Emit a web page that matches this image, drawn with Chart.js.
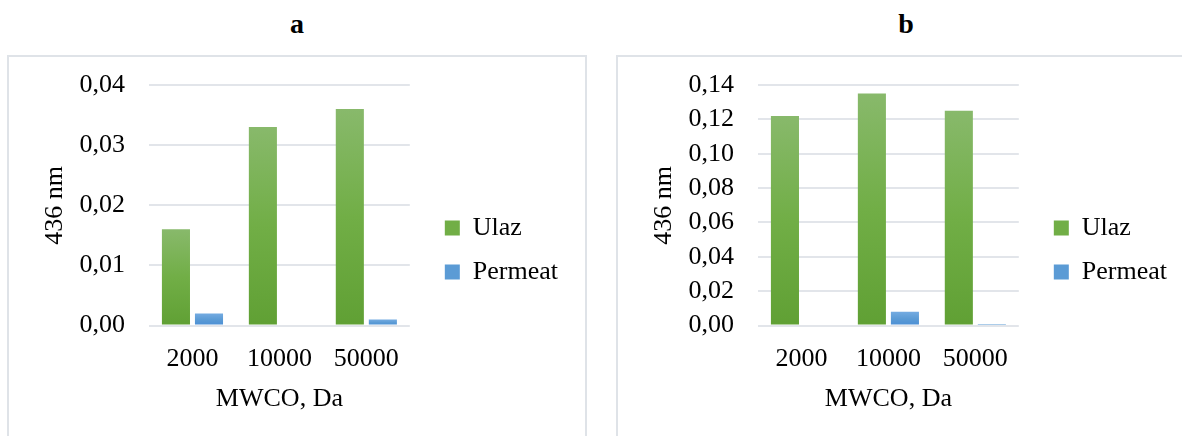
<!DOCTYPE html>
<html>
<head>
<meta charset="utf-8">
<script src="https://cdn.jsdelivr.net/npm/chart.js@4.4.1/dist/chart.umd.min.js"></script>
<style>
  body { margin: 0; width: 1182px; height: 436px; overflow: hidden; background: #fff; }
  .panel { position: absolute; top: 0; width: 580px; height: 436px; }
  .panel h2 { position: absolute; top: 8px; left: 0; width: 100%; margin: 0; text-align: center;
              font: bold 28px "Liberation Serif", serif; color: #000; }
  .box { position: absolute; top: 55px; left: 0; width: 576px; height: 400px; border: 2px solid #dfe3e8; }
  .box canvas { position: absolute; left: 0; top: 0; }
</style>
</head>
<body>
<div class="panel" style="left:7px"><h2>a</h2><div class="box"><canvas id="chartA" width="576" height="380"></canvas></div></div>
<div class="panel" style="left:616px"><h2>b</h2><div class="box"><canvas id="chartB" width="576" height="380"></canvas></div></div>
<script>
// values
const categories = ["2000", "10000", "50000"];
const ulazA = [0.016, 0.033, 0.036];
const permeatA = [0.002, 0, 0.001];
const ulazB = [0.122, 0.135, 0.125];
const permeatB = [0, 0.008, 0.001];
const seriesNames = ["Ulaz", "Permeat"];
const yMaxA = 0.04, yStepA = 0.01;
const yMaxB = 0.14, yStepB = 0.02;

// top / middle / bottom of the gradient fill
const greens = ["#88b96b", "#71ae46", "#60a034"];
const blues = ["#74abe1", "#5b9bd5", "#4a8ed5"];

const font = { family: "'Liberation Serif', 'Times New Roman', serif", size: 26, lineHeight: 1.2 };

// each bar gets its own vertical gradient, like the office fill
function barFill(c) {
  return function (ctx) {
    const chart = ctx.chart;
    const y = chart.scales && chart.scales.y;
    if (!chart.chartArea || !y || ctx.raw == null) return c[1];
    const y0 = y.getPixelForValue(ctx.raw);
    const y1 = y.getPixelForValue(0);
    if (y1 - y0 < 4) return c[1];
    const g = chart.ctx.createLinearGradient(0, y0, 0, y1);
    g.addColorStop(0, c[0]);
    g.addColorStop(0.5, c[1]);
    g.addColorStop(1, c[2]);
    return g;
  };
}

function makeChart(id, ulaz, permeat, yMax, yStep) {
  return new Chart(document.getElementById(id), {
    type: "bar",
    data: {
      labels: categories,
      datasets: [
        {
          label: seriesNames[0],
          data: ulaz,
          backgroundColor: barFill(greens),
          borderWidth: 0,
          categoryPercentage: 0.76,
          barPercentage: 0.85,
        },
        {
          label: seriesNames[1],
          data: permeat,
          backgroundColor: barFill(blues),
          borderWidth: 0,
          categoryPercentage: 0.76,
          barPercentage: 0.85,
        },
      ],
    },
    options: {
      responsive: false,
      animation: false,
      layout: { padding: { left: 27, right: 17, top: 28, bottom: 22 } },
      plugins: {
        legend: {
          position: "right",
          maxWidth: 300,
          labels: {
            boxWidth: 15,
            boxHeight: 15,
            padding: 18,
            color: "#000",
            font: font,
            generateLabels: (chart) => {
              const items = Chart.defaults.plugins.legend.labels.generateLabels(chart);
              items.forEach((it, i) => {
                it.fillStyle = [greens, blues][i][1];
                it.lineWidth = 0;
              });
              return items;
            },
          },
        },
        tooltip: { enabled: false },
      },
      scales: {
        x: {
          grid: { display: false, drawTicks: false },
          border: { display: false },
          ticks: { padding: 18, color: "#000", font: font, maxRotation: 0 },
          title: { display: true, text: "MWCO, Da", color: "#000", font: font, padding: { top: 8, bottom: 0 } },
          afterFit: (s) => { s.height = 89.4; },
        },
        y: {
          min: 0,
          max: yMax,
          ticks: {
            stepSize: yStep,
            padding: 12,
            autoSkip: false,
            color: "#000",
            font: font,
            callback: (v) => v.toFixed(2).replace(".", ","),
          },
          // invisible tick marks keep the labels clear of the plot
          grid: { color: "#e2e5ea", lineWidth: 2, drawTicks: true, tickLength: 12, tickColor: "rgba(0,0,0,0)" },
          border: { display: false },
          title: { display: true, text: "436 nm", color: "#000", font: font, padding: { top: 4, bottom: 8 } },
          afterFit: (s) => { s.width = 113; },
        },
        // empty spacer between the plot and the legend
        y2: {
          position: "right",
          grid: { display: false },
          border: { display: false },
          ticks: { display: false },
          afterFit: (s) => { s.width = 17; },
        },
      },
    },
  });
}

makeChart("chartA", ulazA, permeatA, yMaxA, yStepA);
makeChart("chartB", ulazB, permeatB, yMaxB, yStepB);
</script>
</body>
</html>
